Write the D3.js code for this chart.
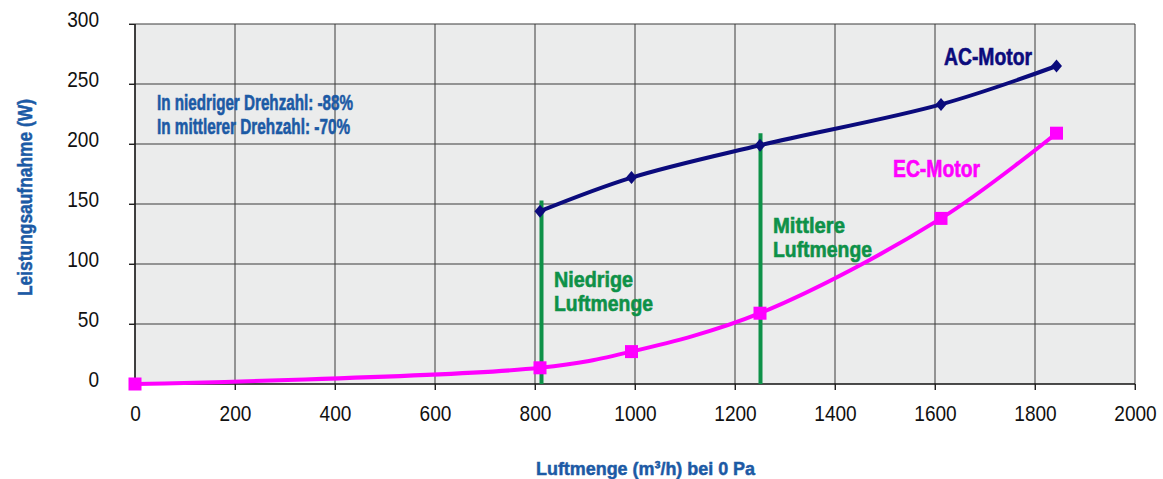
<!DOCTYPE html>
<html>
<head>
<meta charset="utf-8">
<script src="https://cdn.jsdelivr.net/npm/d3@7"></script>
<style>
  html, body { margin: 0; padding: 0; background: #fff; }
  svg { display: block; }
  .cond { font-family: "Liberation Sans", Arial, sans-serif; font-weight: bold; }
  .tick text { font-family: "Liberation Sans", Arial, sans-serif; }
</style>
</head>
<body>
<svg id="chart" width="1163" height="479"></svg>
<script>
// --- Daten ---
const xTicks = [0, 200, 400, 600, 800, 1000, 1200, 1400, 1600, 1800, 2000];
const yTicks = [0, 50, 100, 150, 200, 250, 300];

const acFlow  = [810, 993, 1250, 1612, 1843];
const acPower = [144, 172, 199, 233, 265];

const ecFlow  = [0, 810, 993, 1250, 1612, 1843];
const ecPower = [0, 13.5, 27, 59, 138, 209];

// Markierung der Drehzahlstufen (Luftmenge, obere Leistung)
const stageFlow = [813, 1251];
const stageTop  = [153, 209];
const stageText = [["Niedrige", "Luftmenge"], ["Mittlere", "Luftmenge"]];

const noteLines = ["In niedriger Drehzahl: -88%", "In mittlerer Drehzahl: -70%"];

// --- Grundgerüst ---
const svg = d3.select("#chart");
const blue = "#1c5aa5", navy = "#0b0b7c", pink = "#ff00ff", green = "#0e9148";

const x = d3.scaleLinear().domain([0, 2000]).range([135, 1135]);
const y = d3.scaleLinear().domain([0, 300]).range([384, 24]);

// Hintergrund Plotfläche
svg.append("rect")
  .attr("x", x(0)).attr("y", y(300))
  .attr("width", x(2000) - x(0)).attr("height", y(0) - y(300))
  .attr("fill", "#ebecec");

// Gitternetz
svg.append("g").selectAll("line").data(yTicks.filter(d => d > 0)).join("line")
  .attr("x1", x(0) - 6).attr("x2", x(2000))
  .attr("y1", d => y(d)).attr("y2", d => y(d))
  .attr("stroke", "#3a3a3a").attr("stroke-width", 1);

svg.append("g").selectAll("line").data(xTicks.filter(d => d > 0)).join("line")
  .attr("x1", d => x(d)).attr("x2", d => x(d))
  .attr("y1", y(300)).attr("y2", y(0) + 6)
  .attr("stroke", "#3a3a3a").attr("stroke-width", 1);

// Achsen
const xAxis = d3.axisBottom(x).tickValues(xTicks).tickSize(6).tickPadding(24).tickFormat(d3.format("d"));
const yAxis = d3.axisLeft(y).tickValues(yTicks).tickSize(6).tickPadding(24).tickFormat(d3.format("d"));

const gx = svg.append("g").attr("transform", `translate(0,${y(0)})`).call(xAxis);
const gy = svg.append("g").attr("transform", `translate(${x(0)},0)`).call(yAxis);

[gx, gy].forEach(g => {
  g.select(".domain").attr("stroke", "#111").attr("stroke-width", 1.6);
  g.selectAll(".tick line").attr("stroke", "#222").attr("stroke-width", 1);
  g.selectAll(".tick text").attr("fill", "#111").style("font-size", "22px")
    .attr("textLength", d => String(d).length * 10.6)
    .attr("lengthAdjust", "spacingAndGlyphs");
});
gx.selectAll(".tick text").attr("dy", "0.3em");
gy.selectAll(".tick text").attr("dx", "-6").attr("dy", "0.12em");
gy.select(".domain").attr("d", `M0,${y(300)}V${y(0)}`);
gx.select(".domain").attr("d", `M${x(0)},0H${x(2000)}`);

// Achsentitel
svg.append("text").attr("class", "cond")
  .attr("x", 536).attr("y", 475)
  .attr("textLength", 219).attr("lengthAdjust", "spacingAndGlyphs")
  .attr("fill", blue).attr("stroke", blue).attr("stroke-width", 0.5)
  .style("font-size", "19px")
  .text("Luftmenge (m³/h) bei 0 Pa");

svg.append("text").attr("class", "cond")
  .attr("transform", "translate(32,296) rotate(-90)")
  .attr("textLength", 197).attr("lengthAdjust", "spacingAndGlyphs")
  .attr("fill", blue).attr("stroke", blue).attr("stroke-width", 0.5)
  .style("font-size", "21px")
  .text("Leistungsaufnahme (W)");

// Drehzahlstufen
svg.append("g").selectAll("line").data(stageFlow).join("line")
  .attr("x1", d => x(d)).attr("x2", d => x(d))
  .attr("y1", (d, i) => y(stageTop[i])).attr("y2", y(0))
  .attr("stroke", green).attr("stroke-width", 4);

// Kurven
const line = d3.line().curve(d3.curveCatmullRom.alpha(0.5)).x(d => x(d[0])).y(d => y(d[1]));
const acData = d3.zip(acFlow, acPower);
const ecData = d3.zip(ecFlow, ecPower);

svg.append("path").datum(acData).attr("d", line)
  .attr("fill", "none").attr("stroke", navy).attr("stroke-width", 4);
svg.append("path").datum(ecData).attr("d", line)
  .attr("fill", "none").attr("stroke", pink).attr("stroke-width", 4);

svg.append("g").selectAll("path").data(acData).join("path")
  .attr("transform", d => `translate(${x(d[0])},${y(d[1])})`)
  .attr("d", "M0,-6.5L5.5,0L0,6.5L-5.5,0Z")
  .attr("fill", navy);

svg.append("g").selectAll("rect").data(ecData).join("rect")
  .attr("x", d => x(d[0]) - 6.5).attr("y", d => y(d[1]) - 6.5)
  .attr("width", 13).attr("height", 13)
  .attr("fill", pink);

// Beschriftungen (mehrzeilige als tspans)
const labels = [
  { lines: ["AC-Motor"], x: 944, y: 65, w: [88], c: navy, fs: 23 },
  { lines: ["EC-Motor"], x: 893, y: 177, w: [87], c: pink, fs: 23 },
  { lines: stageText[0], x: 554, y: 287, w: [79, 99], c: green, fs: 22, lh: 23.5 },
  { lines: stageText[1], x: 773, y: 233, w: [72, 99], c: green, fs: 22, lh: 23.5 },
  { lines: noteLines, x: 157, y: 110, w: [196, 193], c: blue, fs: 22, lh: 24 }
];
const lt = svg.append("g").selectAll("text").data(labels).join("text")
  .attr("class", "cond")
  .attr("x", d => d.x).attr("y", d => d.y)
  .attr("fill", d => d.c).attr("stroke", d => d.c).attr("stroke-width", 0.6)
  .style("font-size", d => d.fs + "px");
lt.selectAll("tspan").data(d => d.lines.map((t, i) => ({ t, i, x: d.x, w: d.w[i], lh: d.lh || 0 })))
  .join("tspan")
  .attr("x", d => d.x)
  .attr("dy", d => d.i === 0 ? 0 : d.lh)
  .attr("textLength", d => d.w).attr("lengthAdjust", "spacingAndGlyphs")
  .text(d => d.t);
</script>
</body>
</html>
